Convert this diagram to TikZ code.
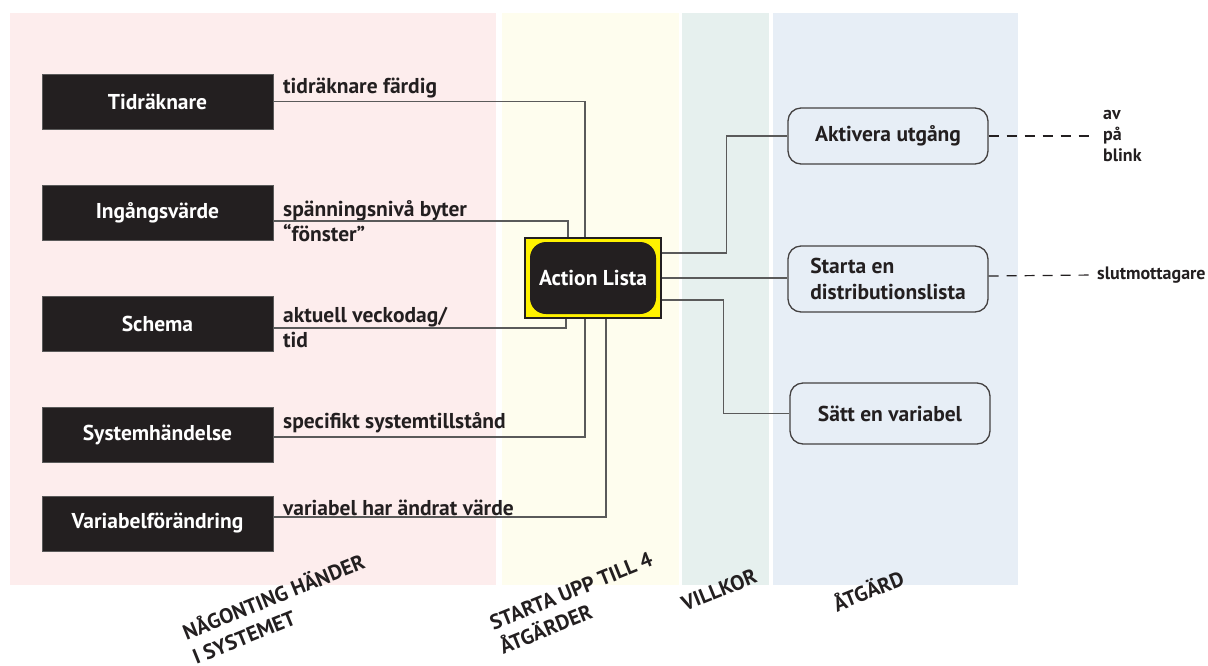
\documentclass[tikz,border=0pt]{standalone}
\usepackage{fontspec}
\setmainfont{PT Sans}
\definecolor{bgpink}{HTML}{FDEDED}
\definecolor{bgyellow}{HTML}{FEFDEE}
\definecolor{bggreen}{HTML}{E6F0EE}
\definecolor{bgblue}{HTML}{E7EEF6}
\definecolor{boxblack}{HTML}{231F20}
\definecolor{hlyellow}{HTML}{FFF200}
\definecolor{wiregray}{HTML}{5A5A5A}
\usetikzlibrary{positioning,calc}

\begin{document}
\begin{tikzpicture}[x=1pt, y=-1pt,
  evbox/.style={rectangle, fill=boxblack, draw=wiregray, line width=0.8pt,
               minimum width=231pt, minimum height=55pt,
               font=\fontsize{21.5}{25}\selectfont\bfseries, text=white},
  hlbox/.style={rectangle, fill=hlyellow, draw=boxblack, line width=1.2pt,
               minimum width=136pt, minimum height=80pt},
  corebox/.style={rectangle, rounded corners=16pt, fill=boxblack,
               minimum width=126pt, minimum height=72pt,
               font=\fontsize{21.5}{25}\selectfont\bfseries, text=white},
  acbox/.style={rectangle, rounded corners=13pt, draw=boxblack!85, line width=1.3pt,
               fill=bgblue, minimum width=200pt, align=left,
               font=\fontsize{21.5}{26}\selectfont\bfseries, text=boxblack},
  lbl/.style={anchor=west, inner sep=0pt, align=left,
               font=\fontsize{21.5}{24.5}\selectfont\bfseries, text=boxblack},
  note/.style={anchor=west, inner sep=0pt, align=left,
               font=\fontsize{18}{21}\selectfont\bfseries, text=boxblack},
  colhead/.style={rotate=22, align=left,
               font=\fontsize{21}{26}\selectfont\bfseries, text=boxblack},
  wire/.style={draw=wiregray, line width=1.6pt},
  tail/.style={draw=boxblack, line width=1.2pt, dash pattern=on 10pt off 8pt}
]
\useasboundingbox (0,0) rectangle (1208,665);

% Columns
\fill[bgpink]   (10,13)  rectangle (496,585);
\fill[bgyellow] (502,13) rectangle (679,585);
\fill[bggreen]  (682,13) rectangle (769,585);
\fill[bgblue]   (773,13) rectangle (1018,585);

% Event nodes
\node[evbox] (timer)  at (157.5,101.5) {Tidräknare};
\node[evbox] (input)  at (157.5,212.5) {Ingångsvärde};
\node[evbox] (sched)  at (157.5,323.5) {Schema};
\node[evbox] (sysev)  at (157.5,434.5) {Systemhändelse};
\node[evbox] (varch)  at (157.5,523.5) {Variabelförändring};

% Event labels
\node[lbl] (ltimer) at (283,88)    {tidräknare färdig};
\node[lbl] (linput) at (283,221)   {spänningsnivå byter\\“fönster”};
\node[lbl] (lsched) at (283,327.5) {aktuell veckodag/\\tid};
\node[lbl] (lsysev) at (283,423)   {specifikt systemtillstånd};
\node[lbl] (lvarch) at (283,508)   {variabel har ändrat värde};

% Center node
\node[hlbox] (action) at (593,278) {};
\node[corebox] (core) at (action) {Action Lista};

% Action nodes
\node[acbox, minimum height=56pt] (output) at (888,136)   {Aktivera utgång};
\node[acbox, minimum height=66pt] (dist)   at (888,279)   {Starta en\\distributionslista};
\node[acbox, minimum height=61pt] (setvar) at (890,413.5) {Sätt en variabel};

% Notes
\node[note] (nout)  at (1103,136) {av\\på\\blink};
\node[note] (ndist) at (1097,275) {slutmottagare};

% Column headings
\node[colhead] (hevent)  at (278,608) {NÅGONTING HÄNDER\\I SYSTEMET};
\node[colhead] (hstart)  at (576,603) {STARTA UPP TILL 4\\ÅTGÄRDER};
\node[colhead] (hcond)   at (719,590) {VILLKOR};
\node[colhead] (haction) at (868,590) {ÅTGÄRD};

% Wires in
\draw[wire] (timer.east) -| ([xshift=-8pt]action.north);
\draw[wire] ([yshift=-8.5pt]input.east) -| ([xshift=-25pt]action.north);
\draw[wire] ([yshift=-4.5pt]sched.east) -| ([xshift=-27pt]action.south);
\draw[wire] ([yshift=-2.5pt]sysev.east) -| ([xshift=-8pt]action.south);
\draw[wire] ([yshift=6.5pt]varch.east)  -| ([xshift=13pt]action.south);

% Wires out
\draw[wire] ([yshift=25pt]action.east)  -- ++(65,0) |- (output.west);
\draw[wire] (action.east) -- (action.east -| dist.west);
\draw[wire] ([yshift=-22pt]action.east) -- ++(62,0) |- (setvar.west);

% Tails
\draw[tail] (output.east) -- ([xshift=-10pt]nout.west);
\draw[tail] ([yshift=3pt]dist.east) -- ([xshift=-3pt]ndist.west);
\end{tikzpicture}
\end{document}
